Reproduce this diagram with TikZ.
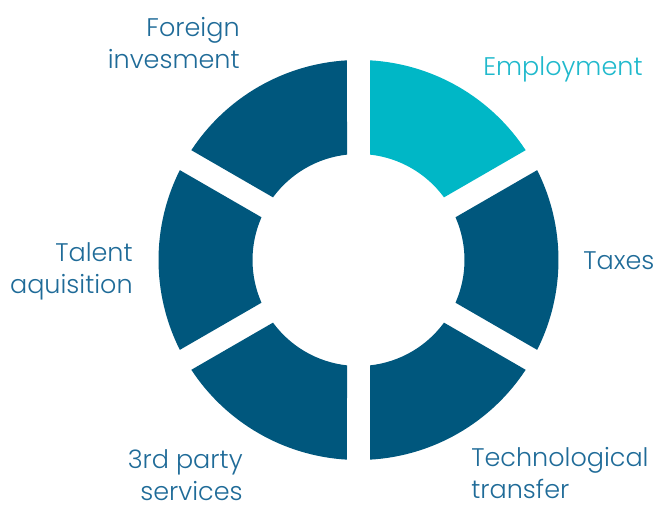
\documentclass[tikz,border=0pt]{standalone}
\usepackage{fontspec}
\setmainfont{Poppins Light}
\usepackage{xcolor}
\usepackage{tikz}

\definecolor{ringblue}{HTML}{00577D}
\definecolor{ringcyan}{HTML}{00B7C6}
\definecolor{labelblue}{HTML}{1F6B98}
\definecolor{labelcyan}{HTML}{20B9CC}

% one piece of the ring, from angle #1 to angle #2
\newcommand{\ringpart}[3]{%
  \fill[#3] (#1+3.3:4) arc[start angle=#1+3.3, end angle=#2-3.3, radius=4]
    -- (#2-6.23:2.12) arc[start angle=#2-6.23, end angle=#1+6.23, radius=2.12] -- cycle;}

\begin{document}
\begin{tikzpicture}[every node/.style={draw=none, inner sep=0pt, text=labelblue,
      font=\fontsize{14.5}{18.2}\selectfont}]
             \useasboundingbox (-7.17,-4.94) rectangle (6.03,5.2);

             \ringpart{30}{90}{ringcyan}
             \ringpart{-30}{30}{ringblue}
             \ringpart{-90}{-30}{ringblue}
             \ringpart{-150}{-90}{ringblue}
             \ringpart{150}{210}{ringblue}
             \ringpart{90}{150}{ringblue}

             \node[anchor=base west, text=labelcyan] (employ) at (2.49, 3.68) {Employment};
             \node[anchor=base west] (taxes) at (4.49, -0.20) {Taxes};
             \node[anchor=west, align=left] (transfer) at (2.25, -4.26) {Technological\\transfer};
             \node[anchor=east, align=right] (party) at (-2.31, -4.30) {3rd party\\services};
             \node[anchor=east, align=right] (talent) at (-4.51, -0.22) {Talent\\aquisition};
             \node[anchor=east, align=right] (foreign) at (-2.37, 4.33) {Foreign\\invesment};
             \end{tikzpicture}
\end{document}
